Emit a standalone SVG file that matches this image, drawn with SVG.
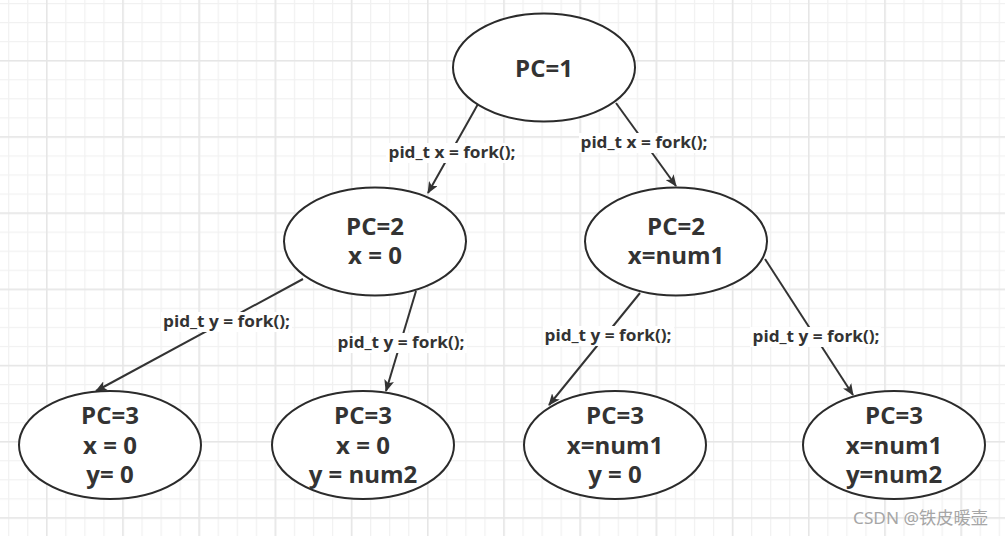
<svg xmlns="http://www.w3.org/2000/svg" width="1005" height="536" viewBox="0 0 1005 536">
  <style>
    .node ellipse { fill: #ffffff; stroke: #2b2b2b; stroke-width: 2; }
    .node text { font-family: "Open Sans", "Noto Sans", "Liberation Sans", sans-serif; font-weight: bold; font-size: 24px; fill: #333333; text-anchor: middle; }
    .edge { fill: none; stroke: #333333; stroke-width: 2; }
    .lbl { font-family: "Open Sans", "Noto Sans", "Liberation Sans", sans-serif; font-weight: bold; font-size: 16px; fill: #333333; text-anchor: middle; }
    .lblbg { fill: #ffffff; }
    .wm { font-family: "Noto Sans", "Noto Sans CJK SC", sans-serif; font-size: 17px; fill: #a6a6a6; }
  </style>
  <defs>
    <pattern id="gMinor" width="19.05" height="19.05" patternUnits="userSpaceOnUse" x="8.1" y="3">
      <path d="M0.5 0 V19.05 M0 0.5 H19.05" fill="none" stroke="#f1f1f1" stroke-width="1.5"/>
    </pattern>
    <pattern id="gMajor" width="76.2" height="76.2" patternUnits="userSpaceOnUse" x="46" y="60">
      <path d="M0.75 0 V76.2 M0 0.75 H76.2" fill="none" stroke="#e6e6e6" stroke-width="1.5"/>
    </pattern>
    <marker id="arr" viewBox="0 0 12 10" refX="11" refY="5" markerWidth="12" markerHeight="10" markerUnits="userSpaceOnUse" orient="auto">
      <path d="M0,0 L12,5 L0,10 L3,5 Z" fill="#333333"/>
    </marker>
  </defs>
  <rect width="1005" height="536" fill="#ffffff"/>
  <rect width="1005" height="536" fill="url(#gMinor)"/>
  <rect width="1005" height="536" fill="url(#gMajor)"/>

  <g id="connectors">
    <path class="edge" d="M478,104 L428,193" marker-end="url(#arr)"/>
    <path class="edge" d="M616,103 L676,186" marker-end="url(#arr)"/>
    <path class="edge" d="M303,279 L96,391" marker-end="url(#arr)"/>
    <path class="edge" d="M416,291 L386,391" marker-end="url(#arr)"/>
    <path class="edge" d="M640,293 L549,405" marker-end="url(#arr)"/>
    <path class="edge" d="M765,259 L853,395" marker-end="url(#arr)"/>

    <rect class="lblbg" x="386" y="143" width="131" height="20"/>
    <text class="lbl" x="452" y="158" textLength="127" lengthAdjust="spacingAndGlyphs">pid_t x = fork();</text>
    <rect class="lblbg" x="579" y="133" width="131" height="20"/>
    <text class="lbl" x="644" y="148" textLength="127" lengthAdjust="spacingAndGlyphs">pid_t x = fork();</text>
    <rect class="lblbg" x="161" y="312" width="131" height="20"/>
    <text class="lbl" x="226.5" y="327" textLength="127" lengthAdjust="spacingAndGlyphs">pid_t y = fork();</text>
    <rect class="lblbg" x="336" y="333" width="131" height="20"/>
    <text class="lbl" x="401" y="348" textLength="127" lengthAdjust="spacingAndGlyphs">pid_t y = fork();</text>
    <rect class="lblbg" x="543" y="326" width="131" height="20"/>
    <text class="lbl" x="608" y="341" textLength="127" lengthAdjust="spacingAndGlyphs">pid_t y = fork();</text>
    <rect class="lblbg" x="750" y="327" width="131" height="20"/>
    <text class="lbl" x="816" y="342" textLength="127" lengthAdjust="spacingAndGlyphs">pid_t y = fork();</text>
  </g>

  <g id="n1" class="node">
    <ellipse cx="544" cy="67.5" rx="91" ry="54"/>
    <text x="544" y="76.5">PC=1</text>
  </g>
  <g id="n2" class="node">
    <ellipse cx="375" cy="241.5" rx="91" ry="54"/>
    <text x="375" y="235">PC=2</text>
    <text x="375" y="264">x = 0</text>
  </g>
  <g id="n3" class="node">
    <ellipse cx="676" cy="241.5" rx="91" ry="54"/>
    <text x="676" y="235">PC=2</text>
    <text x="676" y="264">x=num1</text>
  </g>
  <g id="n4" class="node">
    <ellipse cx="110" cy="445" rx="91" ry="54"/>
    <text x="110" y="424">PC=3</text>
    <text x="110" y="454">x = 0</text>
    <text x="110" y="483">y= 0</text>
  </g>
  <g id="n5" class="node">
    <ellipse cx="363" cy="445" rx="91" ry="54"/>
    <text x="363" y="424">PC=3</text>
    <text x="363" y="454">x = 0</text>
    <text x="363" y="483">y = num2</text>
  </g>
  <g id="n6" class="node">
    <ellipse cx="615" cy="445" rx="91" ry="54"/>
    <text x="615" y="424">PC=3</text>
    <text x="615" y="454">x=num1</text>
    <text x="615" y="483">y = 0</text>
  </g>
  <g id="n7" class="node">
    <ellipse cx="894" cy="445" rx="91" ry="54"/>
    <text x="894" y="424">PC=3</text>
    <text x="894" y="454">x=num1</text>
    <text x="894" y="483">y=num2</text>
  </g>

  <text class="wm" x="853" y="524" textLength="135" lengthAdjust="spacingAndGlyphs">CSDN @铁皮暖壶</text>
</svg>
